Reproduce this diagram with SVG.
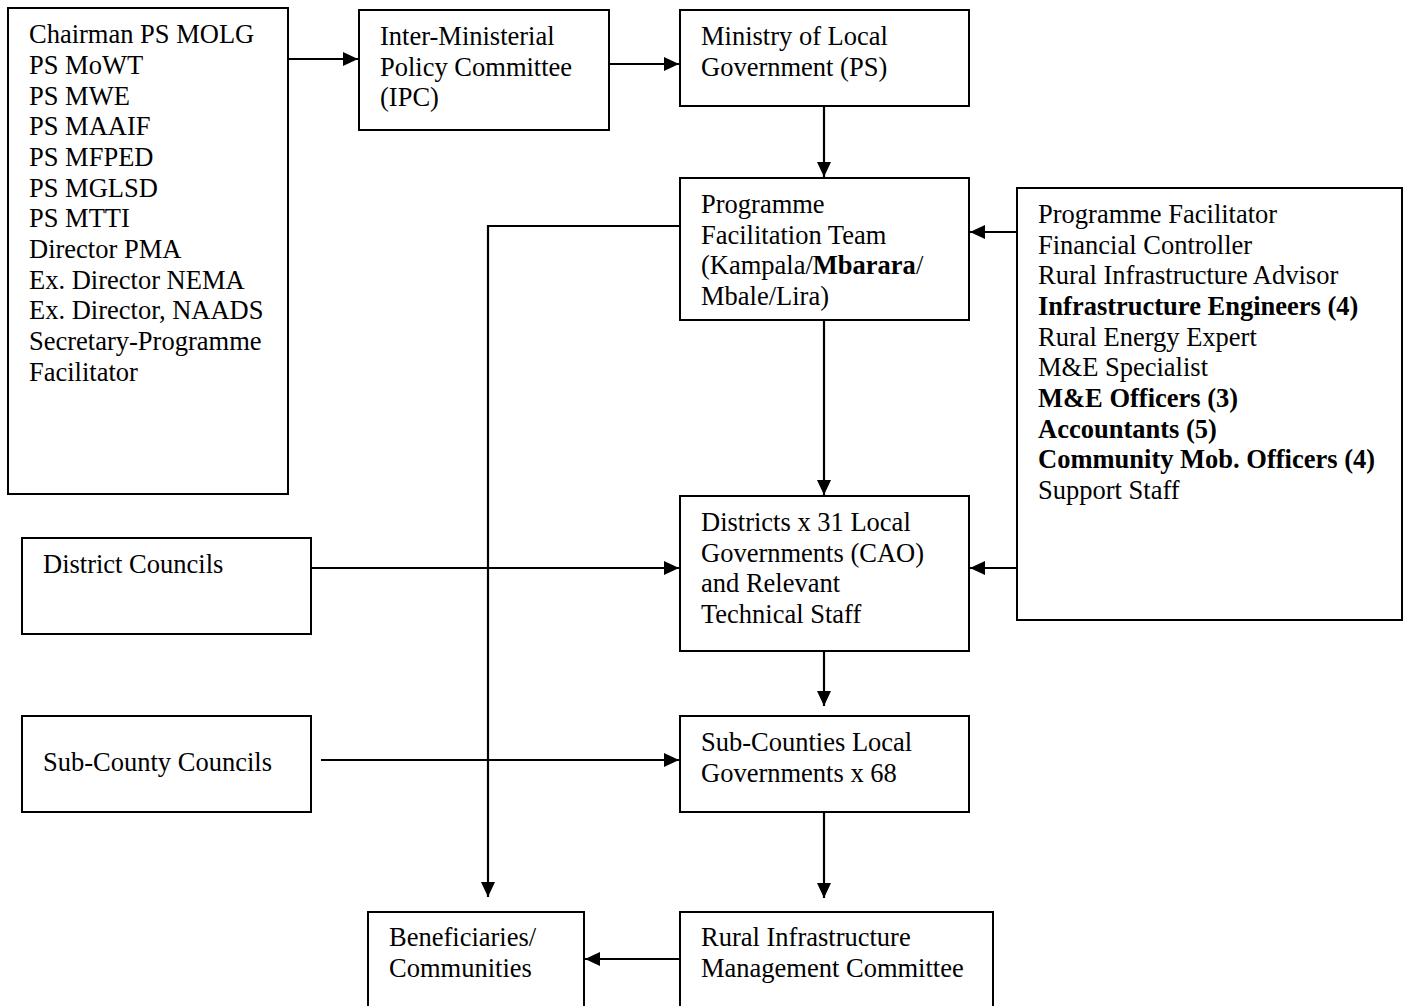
<svg xmlns="http://www.w3.org/2000/svg" width="1408" height="1006" viewBox="0 0 1408 1006">
<style>
.box{fill:#fff;stroke:#000;stroke-width:2}
.t{font-family:"Liberation Serif","Times New Roman",serif;font-size:26.5px;fill:#000}
.b{font-weight:bold}
.c{fill:none;stroke:#000;stroke-width:2.2}
</style>
<defs>
<marker id="ah" markerUnits="userSpaceOnUse" markerWidth="16" markerHeight="14" refX="15" refY="7" orient="auto">
<path d="M0,0 L15,7 L0,14 z" fill="#000"/>
</marker>
</defs>
<rect width="1408" height="1006" fill="#fff"/>

<g id="connectors">
<path class="c" d="M288,59 H358" marker-end="url(#ah)"/>
<path class="c" d="M609,64 H679" marker-end="url(#ah)"/>
<path class="c" d="M824,106 V177" marker-end="url(#ah)"/>
<path class="c" d="M680,226 H488 V897" marker-end="url(#ah)"/>
<path class="c" d="M1017,232 H970" marker-end="url(#ah)"/>
<path class="c" d="M824,320 V495" marker-end="url(#ah)"/>
<path class="c" d="M311,568 H679" marker-end="url(#ah)"/>
<path class="c" d="M1017,568 H970" marker-end="url(#ah)"/>
<path class="c" d="M824,651 V706" marker-end="url(#ah)"/>
<path class="c" d="M321,760 H679" marker-end="url(#ah)"/>
<path class="c" d="M824,812 V898" marker-end="url(#ah)"/>
<path class="c" d="M680,959 H585" marker-end="url(#ah)"/>
</g>

<g id="committee">
<rect class="box" x="8" y="8" width="280" height="486"/>
<text class="t" x="29" y="43">
<tspan x="29" y="43.3">Chairman PS MOLG</tspan>
<tspan x="29" y="74">PS MoWT</tspan>
<tspan x="29" y="104.7">PS MWE</tspan>
<tspan x="29" y="135.3">PS MAAIF</tspan>
<tspan x="29" y="166">PS MFPED</tspan>
<tspan x="29" y="196.7">PS MGLSD</tspan>
<tspan x="29" y="227.3">PS MTTI</tspan>
<tspan x="29" y="258">Director PMA</tspan>
<tspan x="29" y="288.7">Ex. Director NEMA</tspan>
<tspan x="29" y="319.3">Ex. Director, NAADS</tspan>
<tspan x="29" y="350">Secretary-Programme</tspan>
<tspan x="29" y="380.7">Facilitator</tspan>
</text>
</g>

<g id="ipc">
<rect class="box" x="359" y="10" width="250" height="120"/>
<text class="t"><tspan x="380" y="45">Inter-Ministerial</tspan><tspan x="380" y="75.7">Policy Committee</tspan><tspan x="380" y="106.3">(IPC)</tspan></text>
</g>

<g id="molg">
<rect class="box" x="680" y="10" width="289" height="96"/>
<text class="t"><tspan x="701" y="45">Ministry of Local</tspan><tspan x="701" y="75.7">Government (PS)</tspan></text>
</g>

<g id="pft">
<rect class="box" x="680" y="178" width="289" height="142"/>
<text class="t"><tspan x="701" y="213">Programme</tspan><tspan x="701" y="243.7">Facilitation Team</tspan><tspan x="701" y="274.3">(Kampala/<tspan class="b">Mbarara</tspan>/</tspan><tspan x="701" y="305">Mbale/Lira)</tspan></text>
</g>

<g id="staff">
<rect class="box" x="1017" y="188" width="385" height="432"/>
<text class="t">
<tspan x="1038" y="223">Programme Facilitator</tspan>
<tspan x="1038" y="253.7">Financial Controller</tspan>
<tspan x="1038" y="284.3">Rural Infrastructure Advisor</tspan>
<tspan x="1038" y="315" class="b">Infrastructure Engineers (4)</tspan>
<tspan x="1038" y="345.7">Rural Energy Expert</tspan>
<tspan x="1038" y="376.3">M&amp;E Specialist</tspan>
<tspan x="1038" y="407" class="b">M&amp;E Officers (3)</tspan>
<tspan x="1038" y="437.7" class="b">Accountants (5)</tspan>
<tspan x="1038" y="468.3" class="b">Community Mob. Officers (4)</tspan>
<tspan x="1038" y="499">Support Staff</tspan>
</text>
</g>

<g id="district-councils">
<rect class="box" x="22" y="538" width="289" height="96"/>
<text class="t" x="43" y="573">District Councils</text>
</g>

<g id="districts">
<rect class="box" x="680" y="496" width="289" height="155"/>
<text class="t"><tspan x="701" y="531">Districts x 31 Local</tspan><tspan x="701" y="561.7">Governments (CAO)</tspan><tspan x="701" y="592.3">and Relevant</tspan><tspan x="701" y="623">Technical Staff</tspan></text>
</g>

<g id="subcounty-councils">
<rect class="box" x="22" y="716" width="289" height="96"/>
<text class="t" x="43" y="771">Sub-County Councils</text>
</g>

<g id="subcounties">
<rect class="box" x="680" y="716" width="289" height="96"/>
<text class="t"><tspan x="701" y="751">Sub-Counties Local</tspan><tspan x="701" y="781.7">Governments x 68</tspan></text>
</g>

<g id="beneficiaries">
<rect class="box" x="368" y="912" width="216" height="100"/>
<text class="t"><tspan x="389" y="946">Beneficiaries/</tspan><tspan x="389" y="976.7">Communities</tspan></text>
</g>

<g id="rimc">
<rect class="box" x="680" y="912" width="313" height="100"/>
<text class="t"><tspan x="701" y="946">Rural Infrastructure</tspan><tspan x="701" y="976.7">Management Committee</tspan></text>
</g>
</svg>
